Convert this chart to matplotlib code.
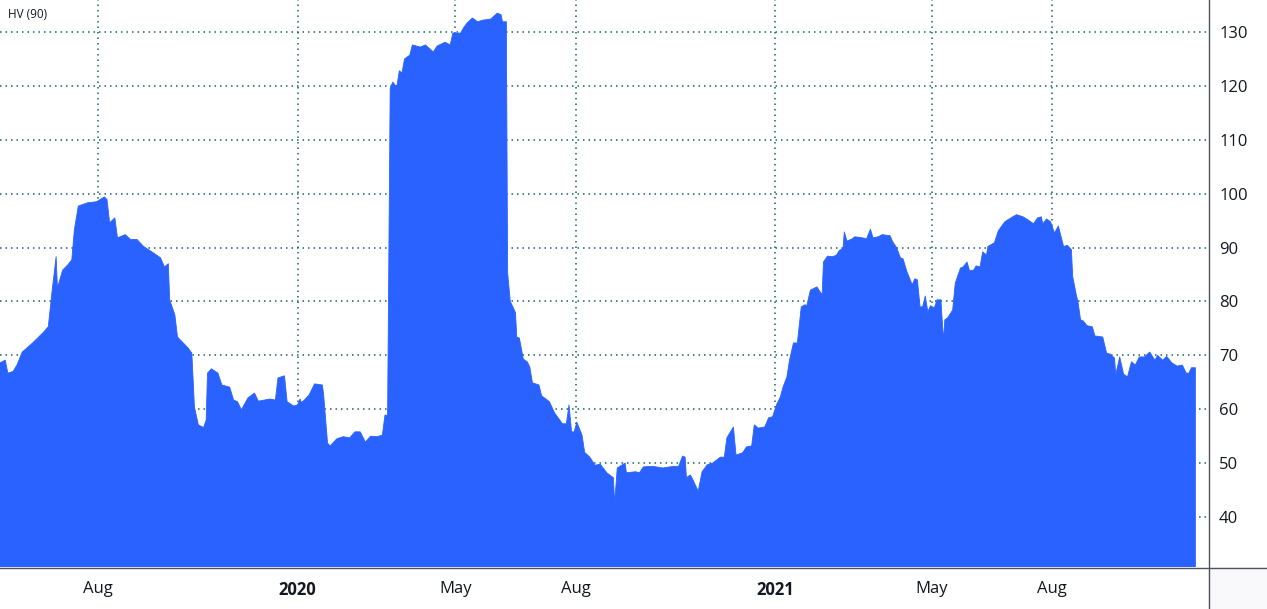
import pandas as pd
import matplotlib
matplotlib.use('Agg')
import matplotlib.pyplot as plt
from matplotlib.lines import Line2D
from matplotlib.patches import Rectangle

# HV (90) readings taken off the chart
dates = ['2019-05-18', '2019-05-22', '2019-05-24', '2019-05-28', '2019-05-31',
         '2019-06-04', '2019-06-12', '2019-06-20', '2019-06-24', '2019-06-27',
         '2019-06-30', '2019-07-01', '2019-07-05', '2019-07-09', '2019-07-12',
         '2019-07-14', '2019-07-17', '2019-07-24', '2019-07-31', '2019-08-06',
         '2019-08-08', '2019-08-10', '2019-08-14', '2019-08-16', '2019-08-22',
         '2019-08-26', '2019-08-31', '2019-09-05', '2019-09-12', '2019-09-18',
         '2019-09-21', '2019-09-24', '2019-09-25', '2019-09-29', '2019-10-01',
         '2019-10-09', '2019-10-12', '2019-10-14', '2019-10-17', '2019-10-21',
         '2019-10-23', '2019-10-24', '2019-10-27', '2019-11-01', '2019-11-04',
         '2019-11-10', '2019-11-13', '2019-11-16', '2019-11-19', '2019-11-24',
         '2019-11-29', '2019-12-02', '2019-12-11', '2019-12-15', '2019-12-17',
         '2019-12-22', '2019-12-24', '2019-12-29', '2020-01-01', '2020-01-03',
         '2020-01-04', '2020-01-07', '2020-01-10', '2020-01-14', '2020-01-20',
         '2020-01-21', '2020-01-24', '2020-01-26', '2020-01-31', '2020-02-05',
         '2020-02-10', '2020-02-14', '2020-02-18', '2020-02-22', '2020-02-26',
         '2020-03-02', '2020-03-06', '2020-03-08', '2020-03-10', '2020-03-12',
         '2020-03-14', '2020-03-17', '2020-03-19', '2020-03-21', '2020-03-23',
         '2020-03-27', '2020-03-29', '2020-04-04', '2020-04-08', '2020-04-14',
         '2020-04-17', '2020-04-23', '2020-04-27', '2020-04-29', '2020-05-05',
         '2020-05-07', '2020-05-10', '2020-05-14', '2020-05-18', '2020-05-22',
         '2020-05-28', '2020-06-02', '2020-06-05', '2020-06-06', '2020-06-09',
         '2020-06-10', '2020-06-12', '2020-06-14', '2020-06-16', '2020-06-17',
         '2020-06-19', '2020-06-22', '2020-06-25', '2020-06-27', '2020-06-29',
         '2020-07-04', '2020-07-06', '2020-07-12', '2020-07-16', '2020-07-22',
         '2020-07-25', '2020-07-27', '2020-07-29', '2020-07-31', '2020-08-02',
         '2020-08-06', '2020-08-08', '2020-08-12', '2020-08-16', '2020-08-20',
         '2020-08-25', '2020-08-30', '2020-08-31', '2020-09-02', '2020-09-08',
         '2020-09-09', '2020-09-16', '2020-09-19', '2020-09-22', '2020-09-29',
         '2020-10-07', '2020-10-15', '2020-10-19', '2020-10-22', '2020-10-24',
         '2020-10-25', '2020-10-28', '2020-10-30', '2020-11-03', '2020-11-06',
         '2020-11-10', '2020-11-14', '2020-11-20', '2020-11-23', '2020-11-25',
         '2020-11-30', '2020-12-02', '2020-12-07', '2020-12-10', '2020-12-14',
         '2020-12-16', '2020-12-19', '2020-12-24', '2020-12-27', '2020-12-30',
         '2021-01-02', '2021-01-05', '2021-01-07', '2021-01-10', '2021-01-12',
         '2021-01-15', '2021-01-18', '2021-01-21', '2021-01-24', '2021-01-25',
         '2021-01-28', '2021-02-02', '2021-02-06', '2021-02-07', '2021-02-10',
         '2021-02-14', '2021-02-17', '2021-02-19', '2021-02-22', '2021-02-23',
         '2021-02-25', '2021-03-01', '2021-03-03', '2021-03-09', '2021-03-12',
         '2021-03-15', '2021-03-17', '2021-03-21', '2021-03-24', '2021-03-30',
         '2021-04-01', '2021-04-04', '2021-04-07', '2021-04-09', '2021-04-12',
         '2021-04-16', '2021-04-18', '2021-04-20', '2021-04-22', '2021-04-24',
         '2021-04-26', '2021-04-28', '2021-04-30', '2021-05-03', '2021-05-05',
         '2021-05-08', '2021-05-10', '2021-05-11', '2021-05-13', '2021-05-17',
         '2021-05-19', '2021-05-23', '2021-05-25', '2021-05-28', '2021-05-30',
         '2021-06-02', '2021-06-04', '2021-06-07', '2021-06-09', '2021-06-12',
         '2021-06-13', '2021-06-18', '2021-06-21', '2021-06-26', '2021-07-02',
         '2021-07-05', '2021-07-10', '2021-07-14', '2021-07-18', '2021-07-21',
         '2021-07-24', '2021-07-25', '2021-07-28', '2021-07-31', '2021-08-03',
         '2021-08-06', '2021-08-10', '2021-08-13', '2021-08-16', '2021-08-17',
         '2021-08-20', '2021-08-21', '2021-08-23', '2021-08-25', '2021-08-28',
         '2021-09-01', '2021-09-03', '2021-09-09', '2021-09-12', '2021-09-15',
         '2021-09-18', '2021-09-19', '2021-09-22', '2021-09-25', '2021-09-28',
         '2021-10-01', '2021-10-04', '2021-10-07', '2021-10-11', '2021-10-15',
         '2021-10-19', '2021-10-21', '2021-10-25', '2021-10-28', '2021-11-01',
         '2021-11-05', '2021-11-09', '2021-11-12', '2021-11-14', '2021-11-16',
         '2021-11-19']

hv = [68.6, 69.1, 66.7, 67.0, 68.2, 70.6, 72.3, 74.2, 75.3, 82.1,
      88.3, 82.5, 85.8, 86.8, 87.7, 93.3, 97.7, 98.3, 98.5, 99.4,
      98.9, 94.6, 95.5, 91.8, 92.4, 91.5, 91.5, 90.2, 89.1, 88.1,
      86.4, 87.0, 80.3, 77.5, 73.4, 71.4, 70.4, 60.4, 57.1, 56.6,
      58.0, 66.7, 67.5, 66.7, 64.5, 64.1, 61.7, 61.4, 59.9, 62.1,
      63.0, 61.5, 61.9, 61.7, 65.8, 66.2, 61.4, 60.6, 60.8, 61.9,
      61.2, 61.9, 62.7, 64.7, 64.5, 62.7, 53.7, 53.2, 54.5, 54.9,
      54.7, 55.8, 55.8, 53.9, 55.0, 54.9, 55.2, 58.9, 58.9, 119.6,
      120.7, 119.8, 122.8, 122.4, 125.0, 125.7, 127.6, 127.2, 127.6, 126.3,
      127.4, 128.1, 127.6, 129.8, 129.8, 130.7, 131.7, 132.6, 131.9, 132.2,
      132.4, 133.5, 133.2, 131.9, 131.9, 85.3, 80.0, 79.0, 77.9, 73.4,
      73.2, 69.3, 68.8, 67.8, 64.9, 64.5, 62.5, 61.4, 59.3, 57.3,
      57.3, 60.8, 55.8, 55.8, 57.6, 55.2, 52.0, 51.1, 49.6, 49.8,
      48.2, 47.3, 42.6, 49.1, 50.0, 48.2, 48.4, 48.2, 49.3, 49.4,
      49.1, 49.4, 49.4, 51.3, 51.1, 47.3, 47.8, 46.9, 44.8, 48.4,
      49.7, 50.0, 51.1, 51.1, 54.7, 56.7, 51.5, 51.9, 53.0, 53.2,
      57.1, 56.5, 56.7, 58.4, 58.6, 60.8, 62.3, 64.1, 66.0, 69.1,
      72.3, 72.3, 79.0, 79.4, 79.0, 82.1, 82.7, 81.2, 87.3, 88.4,
      88.3, 88.6, 89.4, 89.9, 92.9, 91.2, 91.6, 92.0, 91.8, 91.6,
      93.4, 91.8, 92.0, 92.4, 92.2, 91.1, 90.0, 88.1, 87.9, 85.5,
      83.1, 84.2, 84.0, 79.0, 79.0, 81.0, 78.1, 79.2, 78.8, 80.3,
      80.3, 72.7, 76.6, 76.9, 78.4, 83.4, 86.2, 86.4, 87.3, 85.7,
      85.8, 86.6, 86.4, 89.2, 88.6, 90.2, 90.9, 93.1, 94.8, 95.7,
      96.1, 95.7, 95.1, 94.4, 95.5, 95.7, 94.4, 95.3, 94.8, 92.7,
      94.0, 90.2, 90.4, 89.6, 84.6, 80.9, 80.0, 76.6, 76.4, 75.5,
      75.3, 73.6, 73.4, 70.4, 70.2, 69.5, 66.4, 69.7, 66.5, 66.0,
      68.8, 68.2, 69.7, 69.7, 70.6, 69.1, 70.0, 69.1, 69.8, 68.6,
      68.0, 68.2, 66.7, 66.7, 67.7, 67.7]

tick_dates = ['2019-08-01', '2020-01-01', '2020-05-01', '2020-08-01',
              '2021-01-01', '2021-05-01', '2021-08-01']
tick_labels = ['Aug', '2020', 'May', 'Aug', '2021', 'May', 'Aug']
y_ticks = [40, 50, 60, 70, 80, 90, 100, 110, 120, 130]

plt.rcParams['font.family'] = ['Open Sans', 'DejaVu Sans']

x = pd.to_datetime(dates)
W, H = 1267, 609
fig = plt.figure(figsize=(W / 100, H / 100), dpi=100)
fig.patch.set_facecolor('white')
ax = fig.add_axes([0, (H - 567) / H, 1208 / W, 567 / H])

ax.fill_between(x, hv, 0, color='#2962ff', linewidth=0.6, edgecolor='#2962ff', zorder=2)

ax.set_xlim(pd.Timestamp('2019-05-18'), pd.Timestamp('2021-11-28 16:00'))
ax.set_ylim(30.72, 135.94)

ax.set_xticks(pd.to_datetime(tick_dates))
ax.set_xticklabels(tick_labels)
for lbl in ax.get_xticklabels():
    if lbl.get_text().isdigit():
        lbl.set_fontweight('bold')
ax.set_yticks(y_ticks)
ax.yaxis.tick_right()
ax.tick_params(axis='both', length=0, labelsize=12, colors='#131722')
ax.tick_params(axis='y', pad=8)
ax.tick_params(axis='x', pad=10)

ax.set_axisbelow(True)
ax.grid(True, color='#17666a', linestyle=(0, (1, 2.6)), linewidth=1.1)
for s in ax.spines.values():
    s.set_visible(False)

# corner box below the price scale
fig.add_artist(Rectangle((1208 / W, 0), 1 - 1208 / W, (H - 567) / H,
                         transform=fig.transFigure, facecolor='#f9f9fb',
                         edgecolor='none', zorder=0))
# price-scale and time-scale border lines
fig.add_artist(Line2D([1208.5 / W] * 2, [0, 1], color='#50535e', lw=1))
fig.add_artist(Line2D([0, 1], [(H - 567.5) / H] * 2, color='#50535e', lw=1))

fig.text(8 / W, 1 - 15 / H, 'HV (90)', fontsize=8.5, color='#131722',
         va='center', ha='left')

fig.savefig('out.png', dpi=100, facecolor='white')
